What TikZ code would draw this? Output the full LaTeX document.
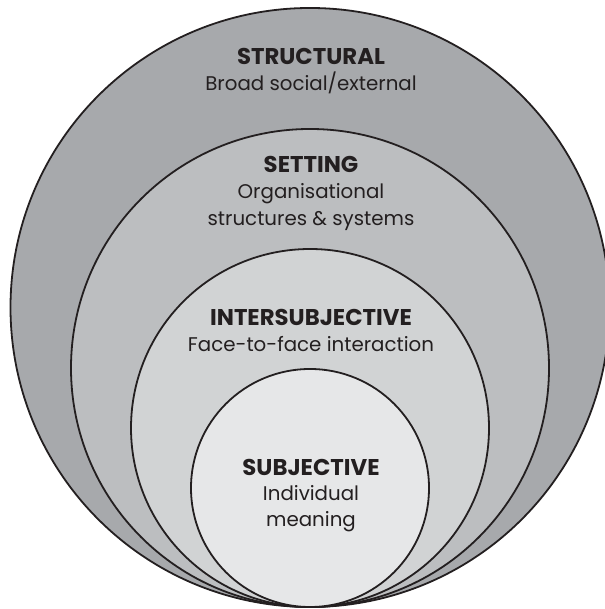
\documentclass[tikz,border=0pt]{standalone}
\usepackage{fontspec}
\setmainfont{Poppins}
\usepackage{xcolor}
\usepackage{tikz}

\definecolor{ink}{HTML}{231F20}
\definecolor{ringA}{HTML}{A7A9AC}
\definecolor{ringB}{HTML}{BCBEC0}
\definecolor{ringC}{HTML}{D1D3D4}
\definecolor{ringD}{HTML}{E6E7E8}

\tikzset{
  ring/.style={circle,draw=ink,line width=1.8pt,inner sep=0pt,outer sep=0pt},
  head/.style={anchor=base,text=ink,font=\bfseries\fontsize{22.8}{27}\selectfont},
  desc/.style={anchor=base,text=ink,font=\fontsize{19.8}{24}\selectfont}
}

\begin{document}
\begin{tikzpicture}[x=1pt,y=1pt]
      \useasboundingbox (0,0) rectangle (604,609);
      % rings, all touching at the bottom
      \node[ring,fill=ringA,minimum size=599pt] (structural) at (310,301.5) {};
      \node[ring,fill=ringB,minimum size=478pt] (setting) at (310,241) {};
      \node[ring,fill=ringC,minimum size=358pt] (inter) at (310,181) {};
      \node[ring,fill=ringD,minimum size=238pt] (subjective) at (310,121) {};
      % labels
      \node[head] (structuralT) at (311,544.3) {STRUCTURAL};
      \node[desc] (structuralD) at (311,518) {Broad social/external};
      \node[head] (settingT) at (311,436) {SETTING};
      \node[desc] (settingD) at (311,410) {Organisational};
      \node[desc] (settingE) at (311,383) {structures \& systems};
      \node[head] (interT) at (311,283) {INTERSUBJECTIVE};
      \node[desc] (interD) at (311,257) {Face-to-face interaction};
      \node[head] (subjectiveT) at (311,133.5) {SUBJECTIVE};
      \node[desc] (subjectiveD) at (311,108) {Individual};
      \node[desc] (subjectiveE) at (311,82) {meaning};
\end{tikzpicture}
\end{document}
